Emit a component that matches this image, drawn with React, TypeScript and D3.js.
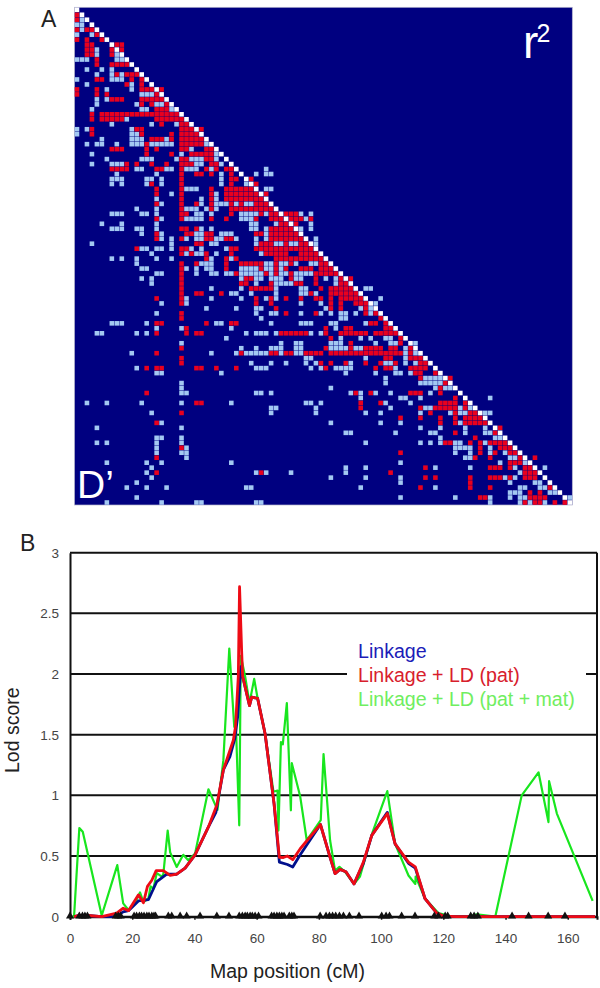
import { useEffect, useRef } from "react";
import * as d3 from "d3";

// Panel A: marker index per row
const redByRow: number[][] = [
  [], [0], [0], [], [0, 2, 3], [4], [0, 2, 5], [2, 3, 8, 9], [2, 3, 7, 9], [2, 3, 7],
  [4], [4, 7, 8, 9, 10], [], [8, 10, 11, 12], [4, 5, 11, 13], [10, 13], [0, 4, 13, 14, 15, 17], [0, 4, 6, 16],
  [7, 8, 9, 13, 14, 15, 16, 17], [13, 15, 18], [16, 17, 18],
  [3, 5, 6, 7, 8, 9, 10, 11, 12, 13, 14, 15, 16, 17, 18, 19, 20],
  [3, 5, 6, 7, 8, 9, 16, 17, 18, 19, 20, 21], [17, 21, 22], [3, 12, 13, 21, 22, 23, 25],
  [3, 13, 19, 21, 22, 23, 24], [15, 16, 17, 19, 21, 22, 23, 24, 25], [14, 21, 22, 23, 24, 25],
  [7, 8, 9, 14, 16, 21, 22, 26, 27], [14, 19, 23, 24, 25, 26, 27], [21, 22, 26, 27],
  [10, 12, 15, 18, 21, 22, 23, 27, 28],
  [7, 8, 9, 10, 16, 17, 21, 26, 28, 30, 31], [21, 24, 25, 27, 31], [21, 31, 32, 35], [15, 21, 31, 36],
  [16, 21, 27, 30, 31, 32, 33, 34, 35], [16, 21, 27, 30, 31, 32, 33, 34, 35, 36, 38],
  [21, 27, 30, 31, 32, 33, 34, 35, 36, 37], [16, 21, 24, 27, 31, 33, 36, 37, 38],
  [21, 27, 31, 32, 33, 34, 35, 36, 37, 38, 39], [21, 22, 31, 37, 39, 40, 42, 43, 44],
  [16, 21, 27, 30, 36, 39, 40, 41, 43, 44, 45, 47], [41, 42, 44], [21, 22, 24, 39, 40, 41, 42, 43],
  [16, 22, 23, 26, 27, 36, 37, 39, 40, 41, 42, 43, 44], [16, 21, 26, 27, 30, 31, 39, 40, 41, 42, 43, 44, 45],
  [24, 25, 37, 38, 39, 42, 45, 46], [12, 21, 22, 31, 32, 36, 37, 38, 39, 40, 41, 42, 43, 44, 45, 46, 47],
  [21, 23, 26, 31, 38, 39, 40, 41, 42, 45, 46, 47, 48], [26, 30, 32, 40, 41, 42, 43, 44, 45, 46, 47, 48, 49],
  [21, 24, 30, 33, 34, 35, 36, 37, 40, 43, 49, 50], [21, 30, 37, 40, 42, 45, 46, 47, 49, 50, 51],
  [21, 32, 38, 40, 43, 48, 49, 50, 51, 52], [21, 34, 35, 43, 48, 53, 55], [21, 33, 34, 39, 44, 45, 48, 53, 54],
  [21, 35, 36, 37, 38, 39, 49, 51, 52, 53, 54, 55], [21, 24, 25, 29, 47, 51, 52, 53, 54, 55, 56],
  [16, 21, 36, 39, 42, 45, 48, 49, 51, 53, 54, 55, 56, 57], [21, 36, 39, 51, 53, 56, 57, 58], [40, 51, 53, 58],
  [21, 42, 48, 58, 60], [21, 61], [16, 17, 26, 31, 32, 59, 60, 62], [22, 50, 54, 55, 62, 63],
  [16, 22, 24, 25, 41, 42, 43, 44, 45, 46, 50, 53, 54, 55, 56, 57, 58, 60, 61, 62, 63, 64],
  [51, 65], [55, 65], [21, 50, 55, 58, 59, 60, 61, 63, 64, 67],
  [16, 33, 39, 40, 42, 43, 46, 47, 48, 49, 51, 52, 53, 54, 55, 56, 57, 58, 59, 60, 61, 62, 63, 64, 65, 67],
  [21, 62, 63, 67, 68, 69], [21, 49, 51, 54, 58, 61, 64, 69, 70], [14, 16, 17, 24, 25, 28, 32, 50, 60, 62, 63, 67, 68, 69, 70],
  [68, 69, 72], [69, 75], [74], [73], [14, 56, 59, 67, 68, 69, 73], [76],
  [24, 25, 57, 61, 73, 74, 75, 76, 78], [57, 69, 72, 73, 74, 75, 76, 78], [21, 71, 76, 79, 80],
  [65, 69, 73, 76, 78, 79, 80, 81], [16, 73, 76, 78, 79, 80, 81, 82], [85], [76, 84], [80],
  [74, 75, 79, 81, 83, 84, 85, 86], [21, 81, 85, 86, 87], [65, 81, 84, 87, 88], [16, 80, 83, 89, 92],
  [87, 88, 89], [70, 83, 84, 85, 87, 90, 91], [16, 37, 63, 90, 91, 92], [70, 72, 79, 83, 84, 85, 87, 90, 91, 92],
  [79], [69, 79, 83, 95], [91, 93], [81, 82, 91, 92, 93, 94], [90, 92, 93, 96, 98],
];

const blueByRow: number[][] = [
  [], [], [1], [0, 1], [1], [0, 3], [], [], [4], [4, 8],
  [0, 1, 2, 8, 9], [], [2, 5, 7], [4, 7, 9], [0, 7, 8, 9], [2, 11], [6, 11], [13, 14, 15],
  [4, 6], [4, 12, 16, 17], [3, 13, 14, 19], [], [10], [7, 15, 20], [0, 2, 11], [0, 11, 12], [5, 11, 12, 13, 18],
  [2, 4, 5, 8, 11, 12, 13, 15, 16, 17, 18, 19, 26], [23], [3, 21, 28], [6, 13, 14, 15, 20, 23, 24, 25, 28],
  [3, 7, 8, 9, 24, 25, 29],
  [12, 13, 18, 19, 22, 23, 24, 27, 38], [8, 16, 29, 36, 38, 39], [7, 8, 9, 14, 15, 17, 29], [7, 9, 14, 17, 29, 34],
  [22, 23, 24, 38, 39], [19, 28], [16, 25, 28], [17, 25, 28, 29, 30, 32, 34, 35], [12, 16, 22, 23, 24, 26, 28],
  [7, 8, 9, 13, 14, 16, 24, 25, 27, 33, 34, 35, 36, 38, 45, 47], [17, 22, 23, 24, 25, 33, 34, 35, 46],
  [5, 9, 16, 35, 36, 40, 47], [7, 8, 9, 12, 13, 16, 25, 27, 35, 36, 38, 45, 47], [13, 17, 24, 25, 29, 30, 31, 38],
  [17, 19, 22, 24, 25, 28, 29, 32, 36, 38, 48], [3, 19, 27, 28, 36, 40, 41, 43, 44, 48],
  [13, 14, 16, 17, 19, 23, 25, 30], [15, 22, 24, 25, 28, 37], [7, 9, 12, 16, 19, 27, 31],
  [12, 25, 26, 27, 38, 39, 41, 42, 44, 47, 48], [13, 14, 22, 24, 26, 27, 33, 34, 35, 36, 38, 39, 41],
  [16, 17, 24, 27, 28, 30, 31, 33, 34, 35, 36, 37, 39, 41, 42, 44, 45, 46, 47],
  [13, 15, 33, 36, 37, 39, 40, 41, 44, 45, 50, 52], [15, 36, 40, 41, 42, 43, 52], [27, 33, 40, 45, 46, 58, 59],
  [31, 32, 35, 40, 45, 46, 48], [22, 27, 33, 38, 40, 61], [17, 22, 45, 49, 60], [26, 32, 36, 37, 50, 57, 59],
  [16, 36, 39, 40, 45, 49, 51, 53, 54, 56, 59], [37, 53, 54], [7, 8, 9, 14, 28, 29, 39, 45, 46, 47, 51, 52, 58],
  [16, 21, 31, 52], [4, 5, 12, 14, 34, 36, 37, 38, 40, 47, 49],
  [30, 53, 57, 59, 62, 63], [21, 41, 44, 45, 51, 52, 53, 60, 63, 64, 68],
  [33, 36, 39, 40, 41, 44, 45, 51, 52, 53, 54, 56, 57, 66], [11, 27, 32, 34, 35, 36, 37, 38, 41, 44, 45, 66, 68],
  [46, 47, 58, 66], [35, 39, 42, 46, 48, 55, 62, 63, 66, 68], [12, 36, 37, 38, 47, 49, 52, 53, 54, 55, 64],
  [16, 17, 29, 54, 60, 64, 65, 67], [62, 70, 71, 72, 73], [21, 62, 69, 70, 71, 72, 73], [21, 51, 72, 74, 75],
  [21, 22, 36, 37, 39, 55, 57, 60, 63, 71], [57, 65, 66, 69, 83], [2, 6, 13, 21, 31, 46, 47, 49, 62, 67],
  [39, 40, 48, 63, 70, 71, 77, 79], [15, 39, 48, 58, 61, 69, 75, 77, 78, 82, 83], [], [17, 51, 61, 65, 77],
  [4, 21, 69, 73, 78, 82], [54, 55, 64, 71, 72, 78, 82, 83], [16, 17, 21, 73, 84, 85],
  [4, 6, 16, 21, 58, 69, 71, 73, 76, 77, 82], [16, 22, 76, 77, 78, 79, 83], [16, 21, 22, 76, 79, 83, 86],
  [22, 78, 79, 87, 88], [6, 14, 17, 31, 65, 85, 90], [15, 54, 58, 72, 79, 88, 94], [14, 36, 38, 43, 54, 89],
  [15, 51, 58, 65, 86, 88], [12, 65, 87, 92, 93], [10, 14, 18, 34, 35, 57, 72, 89, 90, 93, 94],
  [87, 88, 89, 95, 96], [12, 65, 76, 83, 87, 89, 90, 99], [6, 17, 24, 25, 36, 37, 83, 89, 91, 94],
];

const markerCount = 100;

// Panel B: [cM, lod]
const linkage: [number, number][] = [
  [1.3, 0], [3, 0.01], [5.6, 0.01], [10.2, 0], [14.5, 0], [17.1, 0.04], [18.8, 0.05], [22, 0.13], [25.2, 0.14],
  [27.9, 0.29], [31.1, 0.35], [34.3, 0.35], [37, 0.4], [40.2, 0.51], [44.5, 0.74], [46.9, 0.86], [49.3, 1.21],
  [51.4, 1.32], [53, 1.47], [53.9, 1.65], [54.9, 2.06], [55.5, 1.98], [57.7, 1.74], [58.4, 1.81], [60.3, 1.8],
  [62.7, 1.51], [65.6, 0.93], [67.3, 0.45], [69.9, 0.43], [71.6, 0.41], [74, 0.51], [80.5, 0.76], [83.6, 0.49],
  [85.2, 0.355], [86.8, 0.39], [88.7, 0.37], [91.3, 0.27], [94.3, 0.44], [97, 0.67], [102, 0.86], [104.5, 0.6],
  [108.8, 0.44], [111, 0.4], [114.1, 0.15], [117.9, 0.03], [120, 0.005], [124.3, 0], [168.8, 0],
];

const linkagePat: [number, number][] = [
  [1.3, 0], [3, 0.01], [5.6, 0.01], [10.2, 0], [15, 0.03], [17.1, 0.07], [18.8, 0.05], [22, 0.18], [23.6, 0.115],
  [24.9, 0.25], [26.3, 0.3], [27.7, 0.38], [30, 0.38], [32.2, 0.34], [34.3, 0.35], [37, 0.4], [40.2, 0.51],
  [44.5, 0.74], [47.2, 0.92], [49.3, 1.21], [52.5, 1.455], [53.2, 1.565], [54.1, 1.98], [54.5, 2.72], [55.2, 2.17],
  [55.5, 1.98], [57.7, 1.74], [58.4, 1.81], [60.3, 1.8], [62.7, 1.51], [65.6, 0.93], [67.3, 0.49], [68.6, 0.488],
  [69.9, 0.5], [71.6, 0.47], [74, 0.56], [80.5, 0.76], [83.6, 0.49], [85.2, 0.355], [86.8, 0.39], [88.7, 0.37],
  [91.3, 0.27], [94.3, 0.45], [97, 0.67], [102, 0.85], [104.5, 0.6], [108.8, 0.45], [111, 0.41], [114.1, 0.15],
  [117.9, 0.03], [120, 0.005], [124.3, 0], [168.8, 0],
];

const linkagePatMat: [number, number][] = [
  [0, 0], [1.3, 0], [3, 0.73], [4.1, 0.7], [10.2, 0.01], [15.2, 0.425], [17.1, 0.11], [18.8, 0.055], [21.4, 0.14],
  [22.5, 0.2], [23.6, 0.12], [25.2, 0.15], [25.9, 0.25], [26.8, 0.23], [27.9, 0.36], [29.5, 0.33], [30, 0.35],
  [31.4, 0.71], [32.2, 0.53], [34.3, 0.41], [36.4, 0.51], [38, 0.465], [40.2, 0.52], [44.5, 1.05], [47.4, 0.88],
  [49.3, 1.29], [51.2, 2.21], [52.8, 1.565], [53.3, 1.6], [54.4, 0.753], [54.9, 2.15], [56.3, 1.98], [57.7, 1.76],
  [59.2, 1.96], [60.3, 1.8], [62.7, 1.51], [65.4, 1.03], [66.7, 1.04], [67, 0.71], [67.8, 1.44], [68.4, 1.42],
  [69.7, 1.76], [71, 0.877], [71.3, 1.265], [74, 0.99], [76.1, 0.63], [80.6, 0.795], [81.5, 1.34], [83.6, 0.63],
  [85.2, 0.38], [86.6, 0.41], [88.4, 0.37], [91.3, 0.27], [93.2, 0.33], [97.3, 0.7], [102, 1.035], [104.5, 0.6],
  [108.8, 0.34], [111, 0.27], [111.1, 0.33], [114.1, 0.15], [118.4, 0.03], [122.2, 0.005], [127.5, 0], [130.8, 0.02],
  [136.7, 0], [145.2, 1], [150.6, 1.19], [153.8, 0.78], [154, 1.117], [156.5, 0.85], [168, 0.13],
];

const markerPositions = [
  0, 3, 4, 4.8, 5.6, 14.7, 15.5, 16.3, 20.6, 21.4, 22.3, 23, 23.8, 24.7, 25.4, 26.3, 27, 27.5, 31.6, 32.7, 35.4, 37.5,
  41.8, 47.2, 51.1, 54.4, 55.4, 56.3, 57, 57.9, 58.6, 59.5, 60.6, 64.8, 65.6, 66.5, 67.3, 68.1, 68.8, 70.5, 71.3, 72,
  80.4, 82.3, 83.4, 84.4, 85.4, 86.6, 87.9, 89.8, 92.9, 100.2, 101.6, 102.7, 106.6, 110.9, 117.1, 118.4, 120.6, 121.4,
  128.8, 129.9, 131.1, 142.1, 147.4, 153.7, 159.1,
];

const xTicks = [0, 20, 40, 60, 80, 100, 120, 140, 160];
const yTicks = [0, 0.5, 1, 1.5, 2, 2.5, 3];
const legendLabels = ["Linkage", "Linkage + LD (pat)", "Linkage + LD (pat + mat)"];
const legendColors = ["#1c1cb8", "#d8202c", "#70ee60"];

const FONT = "'Liberation Sans', Arial, sans-serif";

export default function App() {
  const svgRef = useRef<SVGSVGElement>(null);

  useEffect(() => {
    const svg = d3.select(svgRef.current);
    svg.selectAll("*").remove();

    // panel A
    const left = 74.5, right = 572.3, top = 7.3, bottom = 505;
    const indices = d3.range(markerCount);
    const col = d3.scaleBand<number>().domain(indices).range([left, right]).paddingInner(0.08).paddingOuter(0.04);
    const row = d3.scaleBand<number>().domain(indices).range([top, bottom]).paddingInner(0.08).paddingOuter(0.04);

    const matrix = svg.append("g");
    matrix.append("rect")
      .attr("x", left).attr("y", top)
      .attr("width", right - left).attr("height", bottom - top)
      .attr("fill", "#000080")
      .attr("stroke", "#b4b4cc")
      .attr("stroke-width", 0.7);

    const drawCells = (byRow: number[][], color: string) => {
      byRow.forEach((cols, r) => {
        matrix.selectAll(null)
          .data(cols)
          .enter()
          .append("rect")
          .attr("x", d => col(d)!)
          .attr("y", row(r)!)
          .attr("width", col.bandwidth())
          .attr("height", row.bandwidth())
          .attr("fill", color);
      });
    };
    drawCells(blueByRow, "#a3c8f2");
    drawCells(redByRow, "#e8001e");

    matrix.selectAll(".diag")
      .data(indices)
      .enter()
      .append("rect")
      .attr("x", d => col(d)!)
      .attr("y", d => row(d)!)
      .attr("width", col.bandwidth())
      .attr("height", row.bandwidth())
      .attr("fill", "#ffffff");

    const text = (x: number, y: number, s: string, size: number, fill: string) =>
      svg.append("text")
        .attr("x", x).attr("y", y)
        .attr("font-family", FONT)
        .attr("font-size", size)
        .attr("fill", fill)
        .text(s);

    text(41, 27, "A", 23, "#222");
    text(20, 551, "B", 23, "#222");
    text(523, 57.5, "r", 46, "#fff");
    text(536.5, 41.7, "2", 25, "#fff");
    text(77, 497.7, "D\u2019", 39, "#fff");

    // panel B
    const x = d3.scaleLinear().domain([0, 169.4]).range([70, 597]);
    const y = d3.scaleLinear().domain([0, 3]).range([916.7, 552.7]);

    const grid = svg.append("g");
    grid.selectAll("line")
      .data(yTicks)
      .enter()
      .append("line")
      .attr("x1", x(0)).attr("x2", x.range()[1])
      .attr("y1", d => y(d)).attr("y2", d => y(d))
      .attr("stroke", "#111")
      .attr("stroke-width", 2);

    // white box behind the legend cuts the 2.0 line
    svg.append("rect")
      .attr("x", 347).attr("y", 640)
      .attr("width", 239).attr("height", 72)
      .attr("fill", "#fff");

    const xAxis = d3.axisBottom(x).tickValues(xTicks).tickSize(3).tickPadding(14).tickFormat(d3.format("d") as any);
    const yAxis = d3.axisLeft(y).tickValues(yTicks).tickSize(0).tickPadding(11).tickFormat(d3.format("") as any);

    const gx = svg.append("g").attr("transform", `translate(0,${y(0)})`).call(xAxis);
    const gy = svg.append("g").attr("transform", `translate(${x(0)},0)`).call(yAxis);
    [gx, gy].forEach(g => {
      g.selectAll("text").attr("font-family", FONT).attr("font-size", 13.5).attr("fill", "#444");
      g.select(".domain").attr("stroke", "#111").attr("stroke-width", 2);
      g.selectAll(".tick line").attr("stroke", "#111").attr("stroke-width", 1.5);
    });

    svg.append("line")
      .attr("x1", x.range()[1]).attr("x2", x.range()[1])
      .attr("y1", y(3)).attr("y2", y(0))
      .attr("stroke", "#111")
      .attr("stroke-width", 2);

    const line = d3.line<[number, number]>().x(d => x(d[0])).y(d => y(d[1]));
    const curves: [[number, number][], string, number][] = [
      [linkagePatMat, "#18e61e", 2.2],
      [linkage, "#00108c", 2.8],
      [linkagePat, "#ee0b15", 2.8],
    ];
    curves.forEach(([data, color, w]) => {
      svg.append("path")
        .datum(data)
        .attr("fill", "none")
        .attr("stroke", color)
        .attr("stroke-width", w)
        .attr("stroke-linejoin", "round")
        .attr("d", line);
    });

    const triangle = d3.symbol().type(d3.symbolTriangle).size(28);
    svg.append("g").selectAll("path")
      .data(markerPositions)
      .enter()
      .append("path")
      .attr("d", triangle)
      .attr("transform", d => `translate(${x(d)},${y(0) - 0.5})`)
      .attr("fill", "#111");

    legendLabels.forEach((s, i) => {
      text(358, 657.7 + i * 24.1, s, 19.6, legendColors[i]);
    });

    text(210, 978, "Map position (cM)", 19.5, "#222");
    svg.append("text")
      .attr("transform", "translate(19,773) rotate(-90)")
      .attr("font-family", FONT)
      .attr("font-size", 19.5)
      .attr("fill", "#222")
      .text("Lod score");
  }, []);

  return (
    <svg
      ref={svgRef}
      width={600}
      height={988}
      viewBox="0 0 600 988"
      style={{ position: "absolute", left: 0, top: 0, display: "block", background: "#fff" }}
    />
  );
}
